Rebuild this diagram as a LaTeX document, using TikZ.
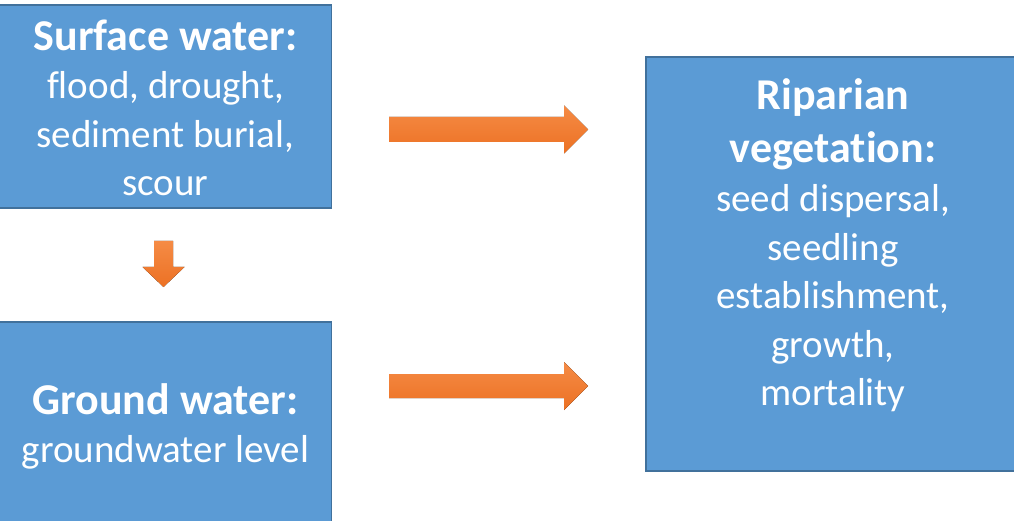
\documentclass[tikz,border=0pt]{standalone}
\usepackage{fontspec}
\setmainfont[Ligatures={NoCommon}]{Carlito}
\definecolor{boxfill}{HTML}{5B9BD5}
\definecolor{boxline}{HTML}{41719C}
\definecolor{arrtop}{HTML}{F58B45}
\definecolor{arrbot}{HTML}{EC7124}
\newcommand{\hd}[1]{{\fontsize{44}{53}\selectfont\bfseries #1}}
\tikzset{
  box/.style={fill=boxfill, draw=boxline, line width=1.5pt, inner sep=0pt},
  boxtext/.style={text=white, align=center, inner sep=0pt, font=\fontsize{39}{48.5}\selectfont},
  blockarrow/.style={top color=arrtop, bottom color=arrbot, draw=none},
}
\begin{document}
\begin{tikzpicture}[x=1pt,y=-1pt]
\useasboundingbox (0,0) rectangle (1014,521);
\clip (0,0) rectangle (1014,521);
% boxes
\node[box, minimum width=332pt, minimum height=203pt] (sw) at (165.5,106.5) {};
\node[box, minimum width=332pt, minimum height=210pt] (gw) at (165.5,427) {};
\node[box, minimum width=374pt, minimum height=414pt] (rv) at (833,264) {};
% texts
\node[boxtext] (swt) at (165.5,108) {\hd{Surface water:}\\flood, drought,\\sediment burial,\\scour};
\node[boxtext] (gwt) at (165.5,426.5) {\hd{Ground water:}\\groundwater level};
\node[boxtext] (rvt) at (833,245.5) {\hd{Riparian}\\[4pt]\hd{vegetation:}\\[1pt]seed dispersal,\\seedling\\establishment,\\growth,\\mortality};
% arrows
\coordinate (a1s) at (389,129.5);
\coordinate (a1e) at (588,129.5);
\coordinate (a2s) at (389,386);
\coordinate (a2e) at (588,386);
\coordinate (a3s) at (163.5,241);
\coordinate (a3e) at (163.5,287);
\fill[blockarrow] ([yshift=-12.5pt]a1s) -- ([xshift=-24pt,yshift=-12.5pt]a1e) -- ([xshift=-24pt,yshift=-24pt]a1e) -- (a1e)
  -- ([xshift=-24pt,yshift=24pt]a1e) -- ([xshift=-24pt,yshift=12.5pt]a1e) -- ([yshift=12.5pt]a1s) -- cycle;
\fill[blockarrow] ([yshift=-12pt]a2s) -- ([xshift=-24pt,yshift=-12pt]a2e) -- ([xshift=-24pt,yshift=-24pt]a2e) -- (a2e)
  -- ([xshift=-24pt,yshift=24pt]a2e) -- ([xshift=-24pt,yshift=12pt]a2e) -- ([yshift=12pt]a2s) -- cycle;
\fill[blockarrow] ([xshift=-9.5pt]a3s) -- ([xshift=-9.5pt,yshift=20pt]a3e) -- ([xshift=-21pt,yshift=20pt]a3e) -- (a3e)
  -- ([xshift=21pt,yshift=20pt]a3e) -- ([xshift=9.5pt,yshift=20pt]a3e) -- ([xshift=9.5pt]a3s) -- cycle;
\end{tikzpicture}
\end{document}
